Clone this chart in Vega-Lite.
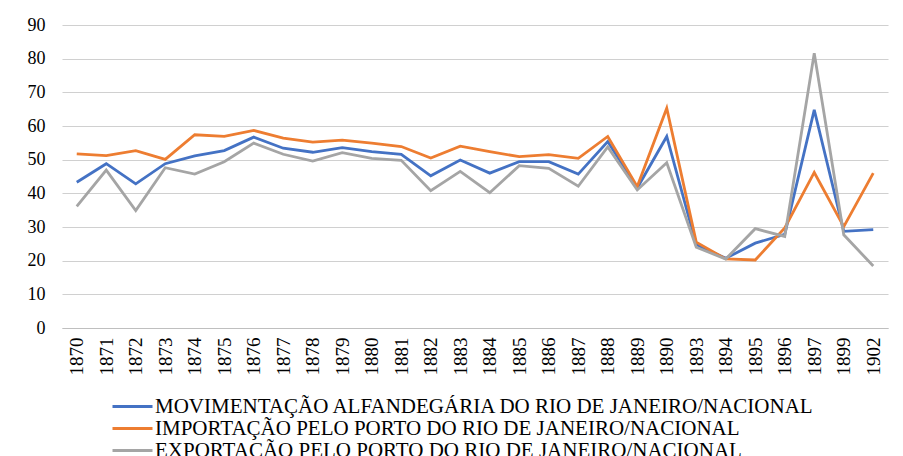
{
  "$schema": "https://vega.github.io/schema/vega-lite/v6.json",
  "autosize": {"type": "none"},
  "width": 826,
  "height": 303,
  "padding": {"left": 62, "top": 25, "right": 15, "bottom": 128},
  "background": "white",
  "config": {
    "view": {"stroke": null},
    "font": "Liberation Serif, DejaVu Serif, serif"
  },
  "datasets": {
    "wide": [
      {"ano": "1870", "mov": 43.3, "imp": 51.7, "exp": 36.1},
      {"ano": "1871", "mov": 48.8, "imp": 51.2, "exp": 46.9},
      {"ano": "1872", "mov": 42.8, "imp": 52.7, "exp": 34.9},
      {"ano": "1873", "mov": 48.8, "imp": 50.1, "exp": 47.6},
      {"ano": "1874", "mov": 51.1, "imp": 57.4, "exp": 45.7},
      {"ano": "1875", "mov": 52.7, "imp": 56.9, "exp": 49.4},
      {"ano": "1876", "mov": 56.7, "imp": 58.7, "exp": 54.9},
      {"ano": "1877", "mov": 53.4, "imp": 56.4, "exp": 51.6},
      {"ano": "1878", "mov": 52.2, "imp": 55.2, "exp": 49.6},
      {"ano": "1879", "mov": 53.6, "imp": 55.8, "exp": 52.1},
      {"ano": "1880", "mov": 52.4, "imp": 54.9, "exp": 50.4},
      {"ano": "1881", "mov": 51.6, "imp": 53.9, "exp": 49.8},
      {"ano": "1882", "mov": 45.2, "imp": 50.5, "exp": 40.8},
      {"ano": "1883", "mov": 49.9, "imp": 54.0, "exp": 46.5},
      {"ano": "1884", "mov": 46.0, "imp": 52.4, "exp": 40.2},
      {"ano": "1885", "mov": 49.4, "imp": 50.9, "exp": 48.2},
      {"ano": "1886", "mov": 49.4, "imp": 51.5, "exp": 47.4},
      {"ano": "1887", "mov": 45.7, "imp": 50.4, "exp": 42.1},
      {"ano": "1888", "mov": 55.4, "imp": 56.9, "exp": 53.8},
      {"ano": "1889", "mov": 41.6, "imp": 42.0, "exp": 41.0},
      {"ano": "1890", "mov": 56.9, "imp": 65.3, "exp": 49.1},
      {"ano": "1893", "mov": 24.8, "imp": 25.5, "exp": 24.0},
      {"ano": "1894", "mov": 20.7, "imp": 20.5, "exp": 20.5},
      {"ano": "1895", "mov": 25.2, "imp": 20.2, "exp": 29.5},
      {"ano": "1896", "mov": 27.8, "imp": 29.7, "exp": 27.2},
      {"ano": "1897", "mov": 64.8, "imp": 46.2, "exp": 81.6},
      {"ano": "1899", "mov": 28.7, "imp": 30.1, "exp": 27.7},
      {"ano": "1902", "mov": 29.2, "imp": 46.0, "exp": 18.4}
    ]
  },
  "data": {"name": "wide"},
  "transform": [
    {"fold": ["mov", "imp", "exp"], "as": ["key", "valor"]},
    {"lookup": "key", "from": {"data": {"values": [
      {"key": "mov", "serie": "MOVIMENTAÇÃO ALFANDEGÁRIA DO RIO DE JANEIRO/NACIONAL"},
      {"key": "imp", "serie": "IMPORTAÇÃO PELO PORTO DO RIO DE JANEIRO/NACIONAL"},
      {"key": "exp", "serie": "EXPORTAÇÃO PELO PORTO DO RIO DE JANEIRO/NACIONAL"}
    ]}, "key": "key", "fields": ["serie"]}}
  ],
  "mark": {"type": "line", "strokeWidth": 2.8, "strokeJoin": "miter"},
  "encoding": {
    "x": {
      "field": "ano", "type": "ordinal", "title": null,
      "scale": {"type": "point", "padding": 0.5},
      "axis": {
        "labelAngle": -90, "labelFontSize": 19, "labelColor": "#000000",
        "labelFont": "Liberation Serif, DejaVu Serif, serif", "ticks": false, "labelPadding": 9,
        "domainColor": "#bfbfbf", "domainWidth": 1, "grid": false
      }
    },
    "y": {
      "field": "valor", "type": "quantitative", "title": null,
      "scale": {"domain": [0, 90], "nice": false},
      "axis": {
        "values": [0, 10, 20, 30, 40, 50, 60, 70, 80, 90],
        "labelFontSize": 18, "labelColor": "#000000", "labelFont": "Liberation Serif, DejaVu Serif, serif",
        "ticks": false, "domain": false, "labelPadding": 17,
        "gridColor": "#d0d0d0", "gridWidth": 1.2
      }
    },
    "color": {
      "field": "serie", "type": "nominal",
      "scale": {
        "domain": [
          "MOVIMENTAÇÃO ALFANDEGÁRIA DO RIO DE JANEIRO/NACIONAL",
          "IMPORTAÇÃO PELO PORTO DO RIO DE JANEIRO/NACIONAL",
          "EXPORTAÇÃO PELO PORTO DO RIO DE JANEIRO/NACIONAL"
        ],
        "range": ["#4472C4", "#ED7D31", "#A5A5A5"]
      },
      "legend": {
        "title": null, "orient": "none", "legendX": 60, "legendY": 371,
        "direction": "vertical", "symbolType": "M-4,0L4,0", "symbolSize": 100,
        "symbolStrokeWidth": 3, "labelFontSize": 21, "labelColor": "#000000",
        "labelFont": "Liberation Serif, DejaVu Serif, serif", "labelLimit": 900, "rowPadding": 0,
        "labelOffset": 12, "padding": 0
      }
    }
  }
}
